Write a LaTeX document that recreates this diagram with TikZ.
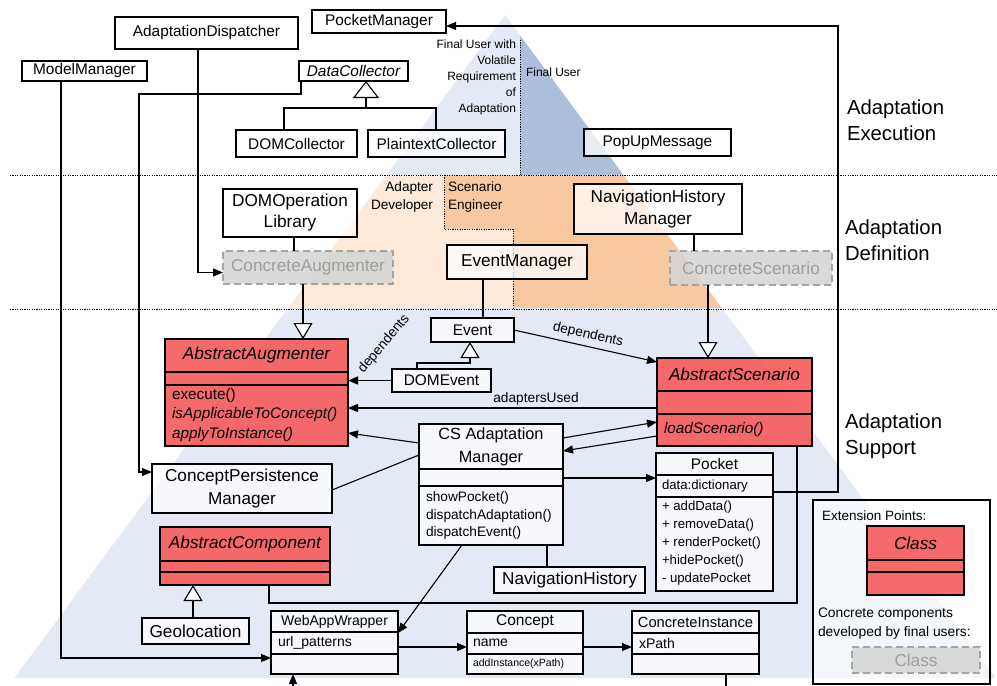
\documentclass[tikz,border=0pt]{standalone}
\usepackage{fontspec}
\setmainfont{Liberation Sans}
\usetikzlibrary{arrows.meta,calc}

\definecolor{layerblue}{RGB}{227,233,245}
\definecolor{userblue}{RGB}{172,190,217}
\definecolor{devorange}{RGB}{252,233,217}
\definecolor{engorange}{RGB}{248,201,161}
\definecolor{extred}{RGB}{246,90,90}
\definecolor{concgray}{RGB}{212,212,212}
\definecolor{concline}{RGB}{165,165,165}
\definecolor{conctext}{RGB}{158,158,158}

\newcommand\pxfont[2]{\fontsize{#1}{#2}\selectfont}
\newcommand\divider[2]{\draw[sep] ($(#1.north west)+(0,#2)$) -- ($(#1.north east)+(0,#2)$);}

\tikzset{
  every node/.style={inner sep=0pt, outer sep=0pt},
  cls/.style={draw, line width=1.1pt, fill=white, fill opacity=0.72, text opacity=1,
              anchor=north west, align=center},
  ext/.style={cls, fill=extred, fill opacity=0.9},
  conc/.style={cls, draw=concline, dash pattern=on 7pt off 4pt, fill=concgray,
               fill opacity=0.85, text=conctext},
  wire/.style={line width=1.1pt},
  assoc/.style={wire, -{Triangle[length=10pt,width=8pt]}},
  gen/.style={wire, -{Triangle[length=16pt,width=19pt,fill=white]}},
  sep/.style={line width=1.1pt},
  lbl/.style={font=\pxfont{13.7}{16}},
  layer/.style={draw=black, line width=0.9pt, dash pattern=on 1.2pt off 1.2pt},
  t15/.style={font=\pxfont{15.4}{18}},
  t17/.style={font=\pxfont{17.2}{21}},
}

\begin{document}
\begin{tikzpicture}[x=1pt,y=-1pt]
\useasboundingbox (0,0) rectangle (997,686);
\fill[white] (0,0) rectangle (997,686);

% ---- pyramid of the three layers ----
\fill[layerblue] (505,15) -- (386.6,175) -- (520,175) -- (520,35.3) -- cycle;
\fill[userblue] (520,35.3) -- (520,175) -- (623.4,175) -- cycle;
\fill[devorange] (386.6,175) -- (288.2,308) -- (513,308) -- (513,229) -- (444,229) -- (444,175) -- cycle;
\fill[engorange] (444,175) -- (444,229) -- (513,229) -- (513,308) -- (721.8,308) -- (623.4,175) -- cycle;
\fill[layerblue] (288.2,308) -- (14.4,678) -- (995.6,678) -- (721.8,308) -- cycle;

\draw[layer] (10,175) -- (997,175);
\draw[layer] (10,309) -- (997,309);
\draw[layer] (520,40) -- (520,175);
\draw[layer] (444,175) -- (444,229) -- (513,229) -- (513,309);

% ---- layer and role captions ----
\node[font=\pxfont{20.3}{26}, align=left, anchor=west] (lexec) at (847,120) {Adaptation\\Execution};
\node[font=\pxfont{20.3}{26}, align=left, anchor=west] (ldef) at (845,240.5) {Adaptation\\Definition};
\node[font=\pxfont{20.3}{26}, align=left, anchor=west] (lsup) at (845,436) {Adaptation\\Support};

\node[font=\pxfont{12}{16}, align=right, anchor=east] (fuv) at (516,77)
  {Final User with\\Volatile\\Requirement\\of\\Adaptation};
\node[font=\pxfont{12}{14}, anchor=west] (fu) at (526,72) {Final User};
\node[font=\pxfont{13.6}{18}, align=right, anchor=east] (adev) at (433,197) {Adapter\\Developer};
\node[font=\pxfont{13.6}{18}, align=left, anchor=west] (seng) at (448,197) {Scenario\\Engineer};

% ---- execution layer ----
\node[cls, t15, minimum width=134pt, minimum height=23pt] (pm) at (312,10) {PocketManager};
\node[cls, t15, minimum width=183pt, minimum height=32pt] (ad) at (115,17) {AdaptationDispatcher};
\node[cls, t15, minimum width=125pt, minimum height=20pt] (mm) at (22,61) {ModelManager};
\node[cls, t15, minimum width=109pt, minimum height=20pt] (dc) at (299,61) {\itshape DataCollector};
\node[cls, t15, minimum width=121pt, minimum height=27pt] (domc) at (236,130) {DOMCollector};
\node[cls, t15, minimum width=137pt, minimum height=27pt] (ptc) at (368,130) {PlaintextCollector};
\node[cls, t15, minimum width=147pt, minimum height=27pt] (pop) at (584,129) {PopUpMessage};

% ---- definition layer ----
\node[cls, t17, minimum width=134pt, minimum height=48pt] (dol) at (223,189) {DOMOperation\\Library};
\node[conc, t17, minimum width=170pt, minimum height=33pt] (ca) at (223,251) {ConcreteAugmenter};
\node[cls, t17, minimum width=140pt, minimum height=34pt] (em) at (447,245) {EventManager};
\node[cls, font=\pxfont{17.2}{22}, minimum width=168pt, minimum height=50pt] (nhm) at (574,184) {NavigationHistory\\Manager};
\node[conc, t17, minimum width=162pt, minimum height=34pt] (cs) at (670,251) {ConcreteScenario};

% ---- support layer ----
\node[ext, minimum width=183pt, minimum height=107pt] (aa) at (165,339) {};
\divider{aa}{33}\divider{aa}{46}
\node[t17] (aat) at (256.5,355) {\itshape AbstractAugmenter};
\node[font=\pxfont{15.3}{19.5}, align=left, anchor=west] (aao) at (172,415)
  {execute()\\\itshape isApplicableToConcept()\\\itshape applyToInstance()};

\node[cls, t15, minimum width=83pt, minimum height=24pt] (ev) at (431,318) {Event};
\node[cls, t15, minimum width=99pt, minimum height=23pt] (de) at (392,369) {DOMEvent};

\node[ext, minimum width=155pt, minimum height=88pt] (as) at (657,358) {};
\divider{as}{33}\divider{as}{56}
\node[t17] (ast) at (734.5,374) {\itshape AbstractScenario};
\node[font=\pxfont{15.3}{18}, anchor=west] (aso) at (664,430) {\itshape loadScenario()};

\node[cls, minimum width=144pt, minimum height=121pt] (csam) at (419,424) {};
\divider{csam}{45}\divider{csam}{62}
\node[font=\pxfont{16.3}{23}, align=center] (csamt) at (491,446.5) {CS Adaptation\\Manager};
\node[font=\pxfont{13.7}{17.5}, align=left, anchor=west] (csamo) at (426,515.5)
  {showPocket()\\dispatchAdaptation()\\dispatchEvent()};

\node[cls, minimum width=117pt, minimum height=138pt] (pk) at (656,453) {};
\divider{pk}{22}\divider{pk}{44}
\node[t15] (pkt) at (714.5,464) {Pocket};
\node[font=\pxfont{13.2}{16}, anchor=west] (pka) at (662,486) {data:dictionary};
\node[font=\pxfont{13.2}{18}, align=left, anchor=west] (pko) at (662,543)
  {+ addData()\\+ removeData()\\+ renderPocket()\\+hidePocket()\\- updatePocket};

\node[cls, font=\pxfont{17.2}{23}, minimum width=180pt, minimum height=49pt] (cpm) at (152,464) {ConceptPersistence\\Manager};

\node[ext, minimum width=170pt, minimum height=58pt] (ac) at (160,527) {};
\divider{ac}{34}\divider{ac}{45}
\node[t17] (act) at (245,544) {\itshape AbstractComponent};

\node[cls, t17, minimum width=107pt, minimum height=26pt] (geo) at (142,618) {Geolocation};
\node[cls, t17, minimum width=151pt, minimum height=26pt] (nh) at (494,567) {NavigationHistory};

\node[cls, minimum width=127pt, minimum height=63pt] (waw) at (271,611) {};
\divider{waw}{21}\divider{waw}{43}
\node[font=\pxfont{14}{16}] (wawt) at (334.5,621.5) {WebAppWrapper};
\node[font=\pxfont{14}{16}, anchor=west] (wawa) at (278,643) {url\_patterns};

\node[cls, minimum width=116pt, minimum height=63pt] (con) at (467,611) {};
\divider{con}{22}\divider{con}{43}
\node[font=\pxfont{15.5}{18}] (cont) at (525,622) {Concept};
\node[font=\pxfont{14}{16}, anchor=west] (cona) at (473,643) {name};
\node[font=\pxfont{10.5}{12}, anchor=west] (cono) at (473,664) {addInstance(xPath)};

\node[cls, minimum width=127pt, minimum height=63pt] (ci) at (632,611) {};
\divider{ci}{22}\divider{ci}{43}
\node[font=\pxfont{14.7}{17}] (cit) at (695.5,622) {ConcreteInstance};
\node[font=\pxfont{14}{16}, anchor=west] (cia) at (639,643) {xPath};

% ---- legend ----
\node[cls, fill opacity=0.6, minimum width=177pt, minimum height=184pt] (lg) at (813,500) {};
\node[font=\pxfont{13.5}{16}, anchor=west] (lgt) at (822,516) {Extension Points:};
\node[ext, minimum width=97pt, minimum height=69pt] (lgext) at (867,526) {};
\divider{lgext}{34}\divider{lgext}{46}
\node[t17] (lgextt) at (915.5,543) {\itshape Class};
\node[font=\pxfont{13.8}{19}, align=left, anchor=west] (lgn) at (818,623.5)
  {Concrete components\\developed by final users:};
\node[conc, t17, minimum width=128pt, minimum height=26pt] (lgconc) at (852,647) {Class};

% ---- connectors ----
\draw[assoc] ($(pk.north east)+(0,39)$) -- ++(65,0) |- ($(pm.south east)+(0,-7)$);
\draw[assoc] ($(ad.south west)+(83,0)$) |- ($(ca.west)+(0,5)$);
\draw[assoc] ($(dc.south west)+(2,0)$) -- ++(0,13) -- ++(-162,0) |- ($(cpm.west)+(0,-16.5)$);
\draw[assoc] ($(mm.south west)+(39,0)$) |- ($(waw.south west)+(0,-16)$);

\draw[wire] ($(domc.north west)+(48,0)$) |- ($(ptc.north west)+(68,-22)$) -- ($(ptc.north west)+(68,0)$);
\draw[wire, -{Triangle[length=17pt,width=26pt,fill=white]}] ($(dc.south west)+(67,27)$) -- ($(dc.south west)+(67,0)$);

\draw[wire] ($(dol.south west)+(71,0)$) -- ($(ca.north west)+(71,0)$);
\draw[gen] ($(ca.south west)+(80,0)$) -- ($(aa.north west)+(138,0)$);
\draw[wire] ($(nhm.south west)+(120,0)$) -- ($(cs.north west)+(24,0)$);
\draw[gen] ($(cs.south west)+(38,0)$) -- ($(as.north west)+(51,0)$);
\draw[wire] ($(em.south west)+(36,0)$) -- ($(ev.north west)+(52,0)$);
\draw[gen] ($(de.north west)+(25,0)$) |- ($(ev.south west)+(39,21)$) -- ($(ev.south west)+(39,0)$);

\draw[assoc] (de.west) -- ($(aa.north east)+(0,41.5)$);
\node[lbl, rotate=50] (depa) at (384,344) {dependents};
\draw[assoc] ($(ev.north east)+(0,12)$) -- ($(as.north west)+(0,4)$);
\node[lbl, rotate=-12.7] (depb) at (588,335) {dependents};
\draw[assoc] ($(as.north west)+(0,50)$) -- ($(aa.north east)+(0,69)$);
\node[lbl] (adu) at (536,399) {adaptersUsed};

\draw[assoc] ($(csam.north west)+(0,19)$) -- ($(aa.north east)+(0,94)$);
\draw[wire] ($(csam.north west)+(0,31)$) -- ($(cpm.north east)+(0,26)$);
\draw[assoc] ($(csam.north east)+(0,14)$) -- ($(as.north west)+(0,64)$);
\draw[assoc] ($(as.north west)+(0,78)$) -- ($(csam.north east)+(0,27)$);
\draw[assoc] ($(csam.north east)+(0,54)$) -- ($(pk.north west)+(0,25)$);
\draw[wire] ($(csam.south west)+(128,0)$) -- ($(nh.north west)+(53,0)$);
\draw[assoc] ($(csam.south west)+(43,0)$) -- ($(waw.north east)+(0,22)$);

\draw[wire] ($(ac.south west)+(109,0)$) |- ($(as.south west)+(140,157)$) -- ($(as.south west)+(140,0)$);
\draw[gen] ($(geo.north west)+(51,0)$) -- ($(ac.south west)+(33,0)$);

\draw[assoc] ($(waw.north east)+(0,36)$) -- ($(con.north west)+(0,36)$);
\draw[assoc] ($(con.north east)+(0,36)$) -- ($(ci.north west)+(0,36)$);

\coordinate (wawin) at (293,686);
\draw[assoc] (wawin) -- ($(waw.south west)+(22,0)$);
\coordinate (ciout) at (726,686);
\draw[wire] ($(ci.south west)+(94,0)$) -- (ciout);
\end{tikzpicture}
\end{document}
